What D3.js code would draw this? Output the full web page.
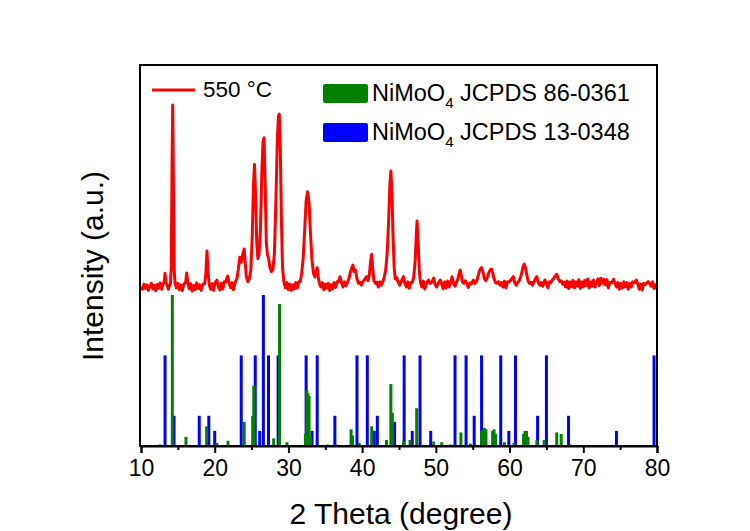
<!DOCTYPE html>
<html>
<head>
<meta charset="utf-8">
<script src="https://cdn.jsdelivr.net/npm/d3@7"></script>
<style>
  body { margin: 0; background: #fff; }
  text { font-family: Arial, "Liberation Sans", sans-serif; fill: #000; }
</style>
</head>
<body>
<div id="chart"></div>
<script>
// measured XRD pattern of the 550 °C sample, [2theta, counts]
const xrd550 = [
  [10.0,20],[10.2,4],[10.4,32],[10.6,8],[10.8,28],[11.0,-2],[11.2,20],[11.4,36],[11.6,6],[11.8,26],
  [12.0,-4],[12.2,30],[12.4,10],[12.6,38],[12.8,4],[13.0,32],[13.15,45],[13.26,90],[13.4,40],[13.55,24],
  [13.7,4],[13.85,24],[14.0,35],[14.1,120],[14.2,620],[14.3,1000],[14.4,560],[14.5,110],[14.62,35],[14.8,12],
  [15.0,36],[15.2,2],[15.4,28],[15.6,-4],[15.8,32],[16.05,40],[16.2,92],[16.35,38],[16.55,6],[16.75,34],
  [16.95,-6],[17.15,24],[17.35,2],[17.55,38],[17.75,8],[17.95,28],[18.15,-2],[18.4,32],[18.65,35],[18.8,90],
  [18.95,211],[19.1,95],[19.25,30],[19.45,4],[19.65,34],[19.85,-2],[20.05,40],[20.3,54],[20.5,18],[20.7,0],
  [20.9,36],[21.1,6],[21.3,44],[21.5,45],[21.75,76],[21.95,40],[22.15,12],[22.35,40],[22.55,2],[22.8,44],
  [23.0,60],[23.2,110],[23.4,177],[23.6,150],[23.8,190],[24.0,222],[24.15,140],[24.3,70],[24.5,45],[24.7,60],
  [24.9,110],[25.1,300],[25.25,560],[25.4,679],[25.55,500],[25.7,260],[25.85,170],[26.0,190],[26.2,320],[26.4,640],
  [26.55,800],[26.7,823],[26.85,560],[27.0,260],[27.15,190],[27.3,173],[27.5,120],[27.7,99],[27.9,110],[28.1,200],
  [28.3,480],[28.5,820],[28.65,940],[28.76,951],[28.9,760],[29.05,380],[29.2,120],[29.4,40],[29.6,12],[29.8,40],
  [30.0,2],[30.2,32],[30.4,-2],[30.6,28],[30.8,6],[31.0,40],[31.2,10],[31.4,44],[31.6,45],[31.8,90],
  [32.0,170],[32.2,320],[32.4,480],[32.6,531],[32.8,470],[33.0,300],[33.2,160],[33.4,90],[33.6,70],[33.75,100],
  [33.9,120],[34.05,70],[34.2,35],[34.4,16],[34.6,40],[34.8,2],[35.0,32],[35.2,10],[35.4,36],[35.6,-2],
  [35.8,28],[36.0,6],[36.2,40],[36.4,14],[36.6,44],[36.8,45],[37.0,72],[37.2,40],[37.4,16],[37.6,44],
  [37.8,24],[38.0,40],[38.2,60],[38.4,95],[38.6,120],[38.75,135],[38.9,100],[39.1,108],[39.3,60],[39.5,36],
  [39.7,42],[39.9,26],[40.1,45],[40.3,55],[40.6,72],[40.8,50],[41.0,90],[41.15,160],[41.3,193],[41.45,110],
  [41.6,50],[41.8,36],[42.0,42],[42.2,16],[42.4,44],[42.6,26],[42.8,45],[43.0,70],[43.2,110],[43.4,200],
  [43.6,380],[43.75,560],[43.9,643],[44.05,520],[44.2,280],[44.35,120],[44.5,60],[44.7,66],[44.9,40],[45.1,26],
  [45.3,45],[45.6,72],[45.8,35],[46.0,16],[46.2,44],[46.4,10],[46.6,40],[46.8,40],[47.0,70],[47.2,160],
  [47.35,300],[47.45,373],[47.6,260],[47.75,110],[47.9,45],[48.1,16],[48.3,48],[48.5,6],[48.75,40],[49.0,54],
  [49.2,36],[49.45,42],[49.7,65],[49.9,30],[50.1,16],[50.35,38],[50.6,54],[50.8,32],[51.0,6],[51.2,44],
  [51.4,12],[51.6,48],[51.8,16],[52.0,40],[52.2,72],[52.4,35],[52.6,20],[52.8,42],[53.0,60],[53.15,90],
  [53.3,108],[53.45,80],[53.6,45],[53.8,36],[54.0,50],[54.2,34],[54.4,14],[54.6,38],[54.8,32],[55.1,54],
  [55.3,36],[55.5,45],[55.7,70],[55.9,100],[56.05,115],[56.2,121],[56.4,95],[56.6,60],[56.8,50],[57.0,70],
  [57.2,95],[57.4,110],[57.55,113],[57.7,95],[57.9,60],[58.1,40],[58.3,36],[58.5,45],[58.7,26],[58.9,40],
  [59.1,16],[59.3,48],[59.5,12],[59.7,44],[59.9,42],[60.2,55],[60.5,72],[60.7,40],[60.9,26],[61.1,40],
  [61.3,50],[61.5,70],[61.7,100],[61.85,130],[62.0,140],[62.15,120],[62.3,90],[62.5,50],[62.7,36],[62.9,42],
  [63.1,26],[63.3,45],[63.5,60],[63.7,72],[63.9,40],[64.1,26],[64.3,40],[64.5,20],[64.8,54],[65.0,36],
  [65.2,12],[65.4,44],[65.6,40],[65.8,55],[66.0,62],[66.2,75],[66.4,85],[66.6,60],[66.8,46],[67.0,50],
  [67.2,32],[67.4,42],[67.6,16],[67.8,48],[68.0,8],[68.2,44],[68.4,16],[68.6,52],[68.8,12],[69.0,44],
  [69.2,20],[69.4,56],[69.6,8],[69.8,44],[70.0,16],[70.2,52],[70.4,24],[70.6,60],[70.8,12],[71.0,44],
  [71.2,20],[71.4,54],[71.6,16],[71.8,44],[72.0,60],[72.2,24],[72.4,64],[72.6,36],[72.8,58],[73.0,28],
  [73.2,56],[73.4,12],[73.6,40],[73.9,40],[74.1,58],[74.3,36],[74.5,16],[74.7,40],[74.9,4],[75.1,36],
  [75.3,12],[75.5,44],[75.7,16],[75.9,40],[76.1,4],[76.3,36],[76.5,16],[76.7,44],[77.0,40],[77.2,54],
  [77.4,32],[77.6,4],[77.8,32],[78.0,0],[78.2,36],[78.4,30],[78.6,38],[78.8,45],[79.0,36],[79.2,20],
  [79.4,44],[79.6,8],[79.8,28],[80.0,9]
];

// NiMoO4 JCPDS 86-0361 (green) reference lines
const ref86Theta = [12.6,14.25,16.1,18.9,20.3,21.8,24.0,25.15,25.3,28.0,28.8,29.8,
  32.3,32.5,32.65,32.8,33.0,35.3,36.55,38.5,38.7,39.6,41.3,41.9,43.3,43.9,44.1,
  45.6,46.5,47.4,49.7,50.8,52.0,53.4,54.7,56.2,56.4,56.6,56.8,57.7,57.9,58.1,
  59.3,60.6,61.9,62.1,62.3,62.5,63.7,64.7,66.4,67.0,68.2];
const ref86Int = [1,100,6,13,2,3.5,16,20,40,5,94,2.5,
  8,37,35,33,6,1,1,11,7,2,13,1,4,41,22,
  3,4,25,3,2.5,1,9,1.5,10,11,12,11,10,11,8,
  2.5,2,8,10,10,6,4,4,9,8,1];

// NiMoO4 JCPDS 13-0348 (blue) reference lines
const ref13Theta = [13.26,14.48,17.9,19.2,20.0,23.6,25.5,26.1,26.6,27.3,28.6,32.4,33.2,
  33.9,36.3,39.3,40.7,41.65,42.06,44.4,45.7,46.8,47.85,49.3,52.6,54.1,55.2,56.2,
  58.8,59.9,60.8,63.8,65.0,68.0,74.5,79.6];
const ref13Int = [60,20,20,20,10,60,60,10,100,60,60,60,10,
  60,20,60,60,10,20,16,60,10,60,10,60,60,20,60,
  60,10,60,20,60,20,10,60];

const xMajorTicks = [10,20,30,40,50,60,70,80];
const xMinorTicks = [15,25,35,45,55,65,75];

const width = 750, height = 531;
const margin = { top: 65, right: 93, bottom: 85, left: 140 };

const svg = d3.select('#chart')
  .append('svg')
  .attr('width', width)
  .attr('height', height)

const x = d3.scaleLinear().domain([10, 80]).range([margin.left + 1, width - margin.right])
const yRef = d3.scaleLinear().domain([0, 100]).range([height - margin.bottom, 295])
const yXrd = d3.scaleLinear().domain([0, 1000]).range([290, 105])

const ref13 = ref13Theta.map((t, i) => ({ t, v: ref13Int[i] }))
const ref86 = ref86Theta.map((t, i) => ({ t, v: ref86Int[i] }))

svg.append('g')
  .selectAll('line')
  .data(ref13)
  .join('line')
    .attr('x1', d => x(d.t)).attr('x2', d => x(d.t))
    .attr('y1', yRef(0)).attr('y2', d => yRef(d.v))
    .attr('stroke', '#0000ff')
    .attr('stroke-width', 3)

svg.append('g')
  .selectAll('line')
  .data(ref86)
  .join('line')
    .attr('x1', d => x(d.t)).attr('x2', d => x(d.t))
    .attr('y1', yRef(0)).attr('y2', d => yRef(d.v))
    .attr('stroke', '#008000')
    .attr('stroke-width', 3)

const line = d3.line()
  .x(d => x(d[0]))
  .y(d => yXrd(d[1]))

svg.append('path')
  .datum(xrd550)
  .attr('d', line)
  .attr('fill', 'none')
  .attr('stroke', '#ff0000')
  .attr('stroke-width', 3)
  .attr('stroke-linejoin', 'round')

// frame
svg.append('rect')
  .attr('x', margin.left)
  .attr('y', margin.top)
  .attr('width', width - margin.right - margin.left)
  .attr('height', height - margin.bottom - margin.top)
  .attr('fill', 'none')
  .attr('stroke', '#000')
  .attr('stroke-width', 2)

const xAxis = svg.append('g')
  .attr('transform', `translate(0,${height - margin.bottom})`)
  .call(d3.axisBottom(x).tickValues(xMajorTicks).tickSize(7).tickFormat(d3.format('d')))
xAxis.select('.domain').attr('stroke-width', 2)
xAxis.selectAll('.tick line').attr('stroke-width', 2)
xAxis.selectAll('.tick text')
  .attr('y', 14)
  .style('font-size', '23px')
  .style('font-family', 'Arial, "Liberation Sans", sans-serif')

const xMinor = svg.append('g')
  .attr('transform', `translate(0,${height - margin.bottom})`)
  .call(d3.axisBottom(x).tickValues(xMinorTicks).tickSize(4).tickFormat(''))
xMinor.select('.domain').remove()
xMinor.selectAll('.tick line').attr('stroke-width', 2)

svg.append('text')
  .attr('x', 401)
  .attr('y', 524)
  .attr('text-anchor', 'middle')
  .style('font-size', '30px')
  .text('2 Theta (degree)')

svg.append('text')
  .attr('transform', 'translate(103,266) rotate(-90)')
  .attr('text-anchor', 'middle')
  .style('font-size', '30px')
  .text('Intensity (a.u.)')

// legend
const legend = svg.append('g')
legend.append('line')
  .attr('x1', 152).attr('x2', 195)
  .attr('y1', 90).attr('y2', 90)
  .attr('stroke', '#ff0000')
  .attr('stroke-width', 3)
legend.append('text')
  .attr('x', 203).attr('y', 97)
  .style('font-size', '22.5px')
  .text('550 °C')

const refItems = [
  { color: '#008000', code: 'JCPDS 86-0361', y: 84 },
  { color: '#0000ff', code: 'JCPDS 13-0348', y: 123 }
]
refItems.forEach(it => {
  legend.append('rect')
    .attr('x', 323).attr('y', it.y)
    .attr('width', 45).attr('height', 19)
    .attr('rx', 2)
    .attr('fill', it.color)
  const t = legend.append('text')
    .attr('x', 372).attr('y', it.y + 17)
    .style('font-size', '23.5px')
  t.append('tspan').text('NiMoO')
  t.append('tspan').attr('dy', 7).style('font-size', '15px').text('4')
  t.append('tspan').attr('dy', -7).text(' ' + it.code)
})
</script>
</body>
</html>
